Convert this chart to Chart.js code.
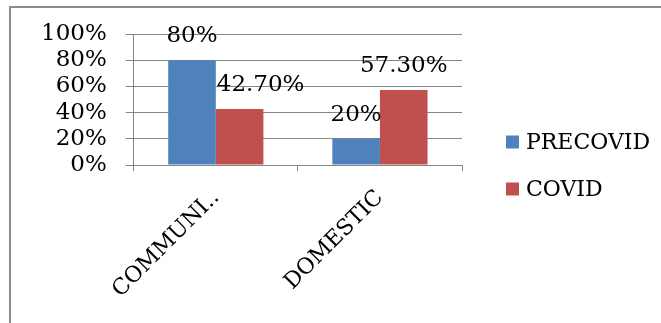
<!DOCTYPE html>
<html>
<head>
<meta charset="utf-8">
<script src="https://cdn.jsdelivr.net/npm/chart.js@4"></script>
<style>
  html, body { margin: 0; padding: 0; background: #fff; }
  body { width: 661px; height: 323px; overflow: hidden; position: relative; }
  #frame { position: absolute; left: 9px; top: 6px; width: 652px; height: 317px;
           border-left: 2px solid #8c8c8c; border-top: 2px solid #8c8c8c; box-sizing: border-box; }
  #frame canvas { display: block; }
</style>
</head>
<body>
<div id="frame"><canvas id="chart" width="650" height="315"></canvas></div>
<script>
// --- data ---
const categories = ['COMMUNI..', 'DOMESTIC'];
const precovidValues = [0.80, 0.20];
const covidValues = [0.427, 0.573];
const precovidLabels = ['80%', '20%'];
const covidLabels = ['42.70%', '57.30%'];
const yTicks = [0, 0.2, 0.4, 0.6, 0.8, 1.0];

const FONT = "'DejaVu Serif', 'Liberation Serif', serif";

// value labels above the bars (Excel style)
const barLabels = {
    id: 'barLabels',
    afterDatasetsDraw(chart) {
        const ctx = chart.ctx;
        ctx.save();
        ctx.font = '23px ' + FONT;
        ctx.fillStyle = '#000';
        ctx.textAlign = 'center';
        ctx.textBaseline = 'middle';
        chart.data.datasets.forEach((ds, di) => {
            chart.getDatasetMeta(di).data.forEach((bar, i) => {
                let dx = (di === 1 && i === 0) ? 21 : 0;
                ctx.fillText(ds.labelsText[i], bar.x + dx, bar.y - 24);
            });
        });
        ctx.restore();
    }
};

// legend on the right, centred vertically on the canvas
const sideLegend = {
    id: 'sideLegend',
    afterDraw(chart) {
        const ctx = chart.ctx;
        const x = chart.chartArea.right + 44;
        const mid = chart.height / 2;
        ctx.save();
        ctx.font = '22px ' + FONT;
        ctx.textBaseline = 'middle';
        chart.data.datasets.forEach((ds, i) => {
            const y = mid + (i - 0.5) * 47;
            ctx.fillStyle = ds.backgroundColor;
            ctx.fillRect(x, y - 6.5, 13, 13);
            ctx.fillStyle = '#000';
            ctx.fillText(ds.label, x + 20, y + 1);
        });
        ctx.restore();
    }
};

new Chart(document.getElementById('chart'), {
    type: 'bar',
    data: {
        labels: categories,
        datasets: [
            { label: 'PRECOVID', data: precovidValues, labelsText: precovidLabels, backgroundColor: '#4f81bd' },
            { label: 'COVID', data: covidValues, labelsText: covidLabels, backgroundColor: '#c0504d' }
        ]
    },
    options: {
        responsive: false,
        animation: false,
        categoryPercentage: 0.58,
        barPercentage: 1.0,
        layout: { padding: { left: 11, top: 26, right: 199, bottom: 27 } },
        scales: {
            x: {
                afterFit(axis) { axis.paddingLeft = 0; axis.paddingRight = 0; },
                grid: { display: true, drawOnChartArea: false, offset: true, color: '#868686', tickLength: 6 },
                border: { color: '#868686' },
                ticks: { color: '#000', font: { family: FONT, size: 22 }, maxRotation: 45, minRotation: 45, padding: 14 }
            },
            y: {
                min: 0, max: 1,
                afterFit(axis) { axis.paddingTop = 0; axis.paddingBottom = 0; },
                afterBuildTicks(axis) { axis.ticks = yTicks.map(v => ({ value: v })); },
                grid: { color: '#868686', tickLength: 8 },
                border: { color: '#868686' },
                ticks: {
                    color: '#000', padding: 19, autoSkip: false,
                    font: { family: FONT, size: 23, lineHeight: 1.0 },
                    callback: v => Math.round(v * 100) + '%'
                }
            }
        },
        plugins: {
            legend: { display: false },
            tooltip: { enabled: false }
        }
    },
    plugins: [barLabels, sideLegend]
});
</script>
</body>
</html>
